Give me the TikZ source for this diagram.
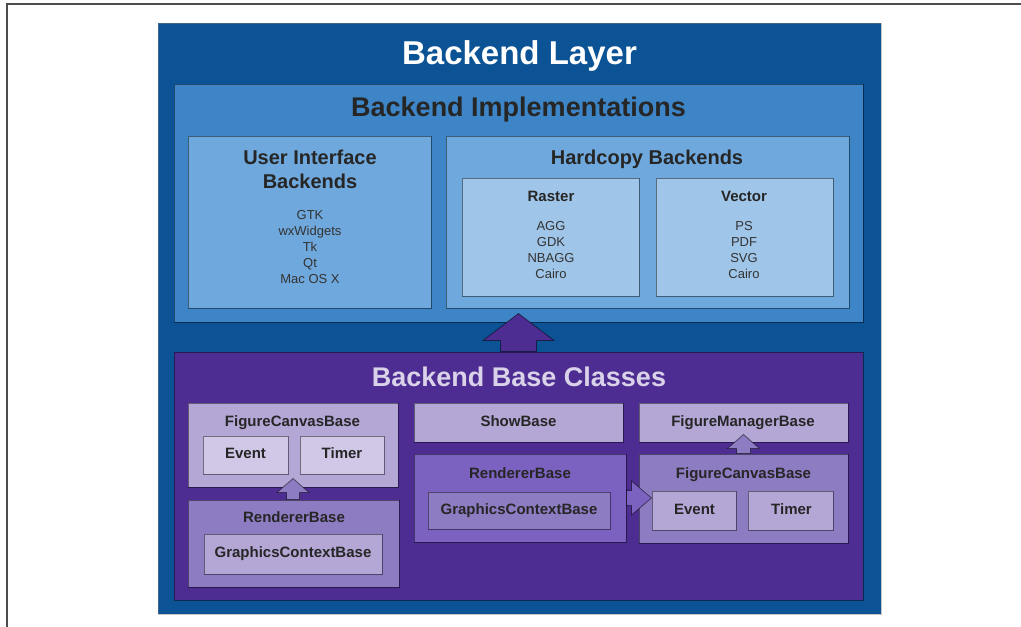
\documentclass[tikz,border=0pt]{standalone}
\usepackage{fontspec}
\setmainfont{Liberation Sans}
\usetikzlibrary{calc}

\definecolor{layerblue}{HTML}{0B5394}
\definecolor{implblue}{HTML}{3D85C6}
\definecolor{groupblue}{HTML}{6FA8DC}
\definecolor{leafblue}{HTML}{9FC5E8}
\definecolor{basepurple}{HTML}{4E2D92}
\definecolor{midpurple}{HTML}{7B62C0}
\definecolor{softpurple}{HTML}{8E7CC3}
\definecolor{lightpurple}{HTML}{B4A7D6}
\definecolor{palepurple}{HTML}{D0C8E6}
\definecolor{titlepurple}{HTML}{D9D2E9}

\begin{document}
\begin{tikzpicture}[x=1pt, y=-1pt,
  box/.style={draw=black, draw opacity=0.45, line width=1pt, fill=#1, inner sep=0pt},
  head/.style={font=\fontsize{27}{32}\selectfont\bfseries, anchor=base},
  sub/.style={font=\fontsize{20}{24.3}\selectfont\bfseries, anchor=base, align=center, text=black!85},
  label/.style={font=\fontsize{15}{18}\selectfont\bfseries, anchor=base, text=black!85},
  item/.style={font=\fontsize{13}{16}\selectfont, anchor=base, text=black!80},
  fatup/.style n args={3}{to path={let \p1=(\tikztostart), \p2=(\tikztotarget) in
    (\x2-#1,\y1) -- (\x2-#1,\y2-#3) -- (\x2-#2,\y2-#3) -- (\x2,\y2)
    -- (\x2+#2,\y2-#3) -- (\x2+#1,\y2-#3) -- (\x2+#1,\y1) -- cycle}},
  fatright/.style n args={3}{to path={let \p1=(\tikztostart), \p2=(\tikztotarget) in
    (\x1,\y2+#1) -- (\x2-#3,\y2+#1) -- (\x2-#3,\y2+#2) -- (\x2,\y2)
    -- (\x2-#3,\y2-#2) -- (\x2-#3,\y2-#1) -- (\x1,\y2-#1) -- cycle}},
  arrowline/.style={draw=black, draw opacity=0.5, line width=0.8pt}]

\useasboundingbox (0,0) rectangle (1021,627);

% Page frame
\draw[gray!60!black, line width=1.2pt] (1021,4) -- (7,4) -- (7,627);

% Backend layer
\node[box=layerblue, draw=gray, minimum width=723pt, minimum height=591pt] (layer) at (519.5,318.5) {};
\node[head, font=\fontsize{33}{38}\selectfont\bfseries, text=white] (layerTitle) at (519.5,64) {Backend Layer};

% Backend implementations
\node[box=implblue, minimum width=689pt, minimum height=238pt] (impl) at (518.5,203) {};
\node[head, text=black!85] (implTitle) at (518.5,116.5) {Backend Implementations};

\node[box=groupblue, minimum width=243pt, minimum height=172pt] (ui) at (309.5,222) {};
\node[sub] (uiTitle) at (310,188.3) {User Interface\\Backends};
\foreach \name [count=\i from 0] in {GTK, wxWidgets, Tk, Qt, Mac OS X}
  \node[item] (ui\i) at (310,219.3+16*\i) {\name};

\node[box=groupblue, minimum width=403pt, minimum height=172pt] (hard) at (647.5,222) {};
\node[sub] (hardTitle) at (647,164) {Hardcopy Backends};

\node[box=leafblue, minimum width=177pt, minimum height=118pt] (raster) at (550.5,237) {};
\node[label] (rasterTitle) at (551,201.7) {Raster};
\foreach \name [count=\i from 0] in {AGG, GDK, NBAGG, Cairo}
  \node[item] (raster\i) at (551,230.7+15.9*\i) {\name};

\node[box=leafblue, minimum width=177pt, minimum height=118pt] (vector) at (744.5,237) {};
\node[label] (vectorTitle) at (744,201.7) {Vector};
\foreach \name [count=\i from 0] in {PS, PDF, SVG, Cairo}
  \node[item] (vector\i) at (744,230.7+15.9*\i) {\name};

% Backend base classes
\node[box=basepurple, minimum width=689pt, minimum height=248pt] (base) at (518.5,476) {};
\node[head, text=titlepurple] (baseTitle) at (519,386) {Backend Base Classes};

% Left column
\node[box=lightpurple, minimum width=210pt, minimum height=84pt] (fcbL) at (293,445) {};
\node[label] (fcbLTitle) at (292.5,426) {FigureCanvasBase};
\node[box=palepurple, minimum width=85pt, minimum height=38pt] (evtL) at (245.5,455) {};
\node[label] (evtLText) at (245.5,458.3) {Event};
\node[box=palepurple, minimum width=84pt, minimum height=38pt] (tmrL) at (342,455) {};
\node[label] (tmrLText) at (342,458.3) {Timer};

\node[box=softpurple, minimum width=211pt, minimum height=87pt] (rrbL) at (293.5,543.5) {};
\node[label] (rrbLTitle) at (294,522.7) {RendererBase};
\node[box=lightpurple, minimum width=178pt, minimum height=40pt] (gcbL) at (293,554) {};
\node[label] (gcbLText) at (293,557.3) {GraphicsContextBase};

% Middle column
\node[box=lightpurple, minimum width=209pt, minimum height=39pt] (show) at (518.5,422.5) {};
\node[label] (showText) at (518.5,426) {ShowBase};

\node[box=midpurple, minimum width=212pt, minimum height=88pt] (rrbM) at (520,498) {};
\node[label] (rrbMTitle) at (520,478.3) {RendererBase};
\node[box=softpurple, minimum width=182pt, minimum height=37pt] (gcbM) at (519,510.5) {};
\node[label] (gcbMText) at (519,514) {GraphicsContextBase};

% Right column
\node[box=lightpurple, minimum width=209pt, minimum height=39pt] (fmb) at (743.5,422.5) {};
\node[label] (fmbText) at (743,426) {FigureManagerBase};

\node[box=softpurple, minimum width=209pt, minimum height=89pt] (fcbR) at (743.5,498.5) {};
\node[label] (fcbRTitle) at (743.5,478.3) {FigureCanvasBase};
\node[box=lightpurple, minimum width=84pt, minimum height=39pt] (evtR) at (694,510.5) {};
\node[label] (evtRText) at (694.5,514) {Event};
\node[box=lightpurple, minimum width=85pt, minimum height=39pt] (tmrR) at (790.5,510.5) {};
\node[label] (tmrRText) at (791.5,514) {Timer};

% Arrows
\draw[arrowline, fill=basepurple, fatup={18pt}{35.5pt}{27pt}] (base.north) to ([yshift=9pt]impl.south);
\draw[arrowline, fill=softpurple, fatup={6.5pt}{16pt}{14pt}] (rrbL.north) to ([yshift=9pt]fcbL.south);
\draw[arrowline, fill=softpurple, fatup={7pt}{16pt}{14pt}] (fcbR.north) to ([yshift=8pt]fmb.south);
\draw[arrowline, fill=midpurple, fatright={7.5pt}{17pt}{20pt}] (rrbM.east) to (evtR.west |- rrbM.east);

\end{tikzpicture}
\end{document}
